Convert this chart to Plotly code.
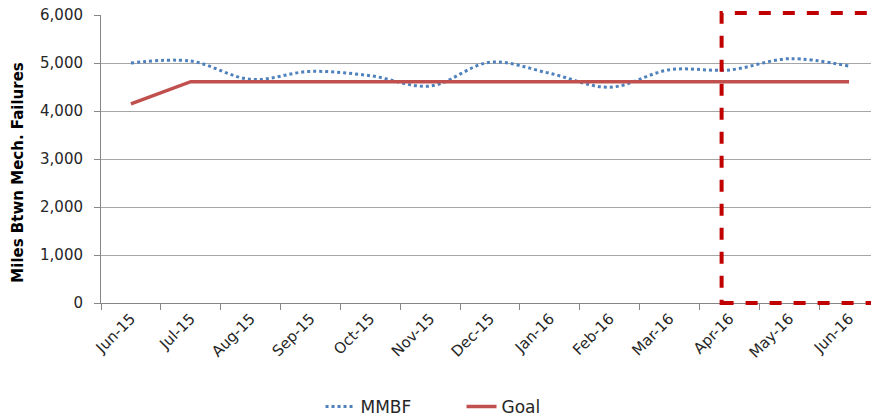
import plotly.graph_objects as go

months = ["Jun-15", "Jul-15", "Aug-15", "Sep-15", "Oct-15", "Nov-15", "Dec-15",
          "Jan-16", "Feb-16", "Mar-16", "Apr-16", "May-16", "Jun-16"]
mmbf = [5000, 5040, 4660, 4825, 4735, 4520, 5015, 4785, 4495, 4860, 4855, 5090, 4935]
goal = [4150, 4610, 4610, 4610, 4610, 4610, 4610, 4610, 4610, 4610, 4610, 4610, 4610]

FONT = "DejaVu Sans, Open Sans, sans-serif"

fig = go.Figure()
fig.add_trace(go.Scatter(x=months, y=mmbf, name="MMBF", mode="lines",
                         line=dict(color="#4F81BD", width=3, dash="dot", shape="spline")))
fig.add_trace(go.Scatter(x=months, y=goal, name="Goal", mode="lines",
                         line=dict(color="#C0504D", width=3.5)))

fig.add_shape(type="rect", xref="x", yref="paper", x0=9.87, x1=12.47, y0=0, y1=1.007,
              line=dict(color="#C00000", width=4, dash="dash"), layer="above")

fig.add_annotation(text="<b>Miles Btwn Mech. Failures</b>", xref="paper", yref="paper",
                   x=-0.1067, y=0.456, xanchor="center", yanchor="middle", textangle=-90,
                   showarrow=False, font=dict(family=FONT, size=15, color="#000000"))

fig.update_layout(
    width=871, height=410,
    margin=dict(l=93, r=0, t=7, b=115, autoexpand=False),
    paper_bgcolor="white", plot_bgcolor="white",
    font=dict(family=FONT, color="#404040"),
    showlegend=True,
    legend=dict(orientation="h", x=0.5207, xanchor="center", xref="container",
                y=0.027, yanchor="middle", yref="container", entrywidth=96,
                font=dict(size=17, color="#262626")),
    xaxis=dict(type="category", showgrid=False, showline=True, linecolor="#868686",
               ticks="outside", tickson="boundaries", ticklen=6, tickcolor="#868686",
               tickangle=-45, tickfont=dict(size=15, color="#262626"),
               range=[-0.5, 12.5], automargin=False),
    yaxis=dict(range=[0, 6000], dtick=1000, tickformat=",", showgrid=True,
               gridcolor="#A6A6A6", gridwidth=1, showline=True, linecolor="#868686",
               ticks="outside", ticklen=6, tickcolor="#868686", zeroline=False,
               tickfont=dict(size=15, color="#262626"), automargin=False,
               ticklabelstandoff=8, ticklabeloverflow="allow"),
)

fig.write_html("out.html")
